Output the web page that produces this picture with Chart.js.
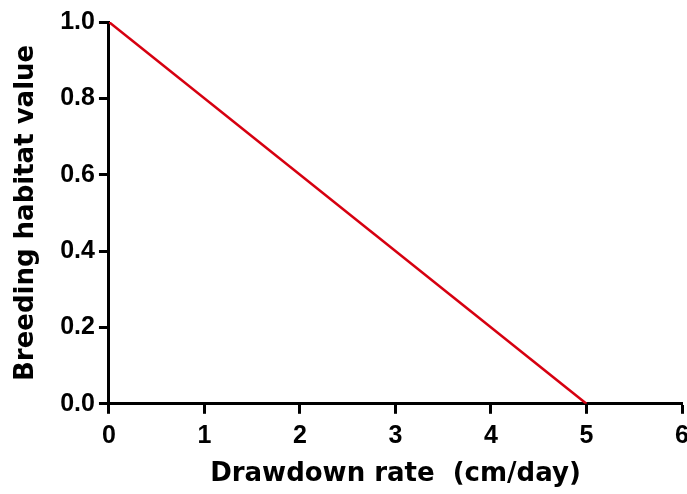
<!DOCTYPE html>
<html lang="en">
<head>
    <meta charset="UTF-8">
    <title>Breeding habitat value vs drawdown rate</title>
    <script src="https://cdn.jsdelivr.net/npm/chart.js"></script>
    <style>
        html, body { margin: 0; padding: 0; background: #fff; }
        #wrap { width: 687px; height: 494px; }
    </style>
</head>
<body>
    <div id="wrap"><canvas id="habitatChart" width="687" height="494"></canvas></div>

    <script>
        // data
        const drawdownRate = [0, 5];      // cm/day
        const habitatValue = [1.0, 0.0];  // breeding habitat value
        const xTicks = [0, 1, 2, 3, 4, 5, 6];
        const yTicks = [0.0, 0.2, 0.4, 0.6, 0.8, 1.0];

        const points = drawdownRate.map((x, i) => ({ x: x, y: habitatValue[i] }));

        const tickFont = { family: 'Liberation Sans, Arial, sans-serif', size: 25, weight: 'bold' };
        const titleFont = { family: 'DejaVu Sans, sans-serif', size: 26, weight: 'bold' };

        const axisStyle = {
            border: { display: true, color: '#000', width: 3 },
            grid: { display: true, drawOnChartArea: false, drawTicks: true, tickLength: 10, tickWidth: 3, tickColor: '#000' }
        };

        var ctx = document.getElementById('habitatChart').getContext('2d');
        new Chart(ctx, {
            type: 'scatter',
            data: {
                datasets: [{
                    label: 'Habitat value',
                    data: points,
                    showLine: true,
                    borderColor: 'rgb(214,0,16)',
                    borderWidth: 2.5,
                    pointRadius: 0,
                    fill: false
                }]
            },
            options: {
                responsive: false,
                animation: false,
                layout: { padding: { top: 22, right: 5, left: 11, bottom: 4 } },
                plugins: { legend: { display: false }, tooltip: { enabled: false } },
                scales: {
                    x: {
                        type: 'linear',
                        min: 0, max: 6,
                        ...axisStyle,
                        afterBuildTicks: s => { s.ticks = xTicks.map(v => ({ value: v })); },
                        afterFit: s => { s.paddingRight = 0; s.paddingLeft = 0; },
                        ticks: { color: '#000', font: tickFont, padding: 7, maxRotation: 0 },
                        title: { display: true, text: 'Drawdown rate  (cm/day)', color: '#000', font: titleFont, padding: { top: 1, bottom: 0 } }
                    },
                    y: {
                        type: 'linear',
                        min: 0, max: 1,
                        ...axisStyle,
                        afterBuildTicks: s => { s.ticks = yTicks.map(v => ({ value: v })); },
                        afterFit: s => { s.paddingTop = 0; },
                        ticks: { color: '#000', font: tickFont, padding: 4, callback: v => Number(v).toFixed(1) },
                        title: { display: true, text: 'Breeding habitat value', color: '#000', font: titleFont, padding: { top: 0, bottom: 14 } }
                    }
                }
            }
        });
    </script>
</body>
</html>
